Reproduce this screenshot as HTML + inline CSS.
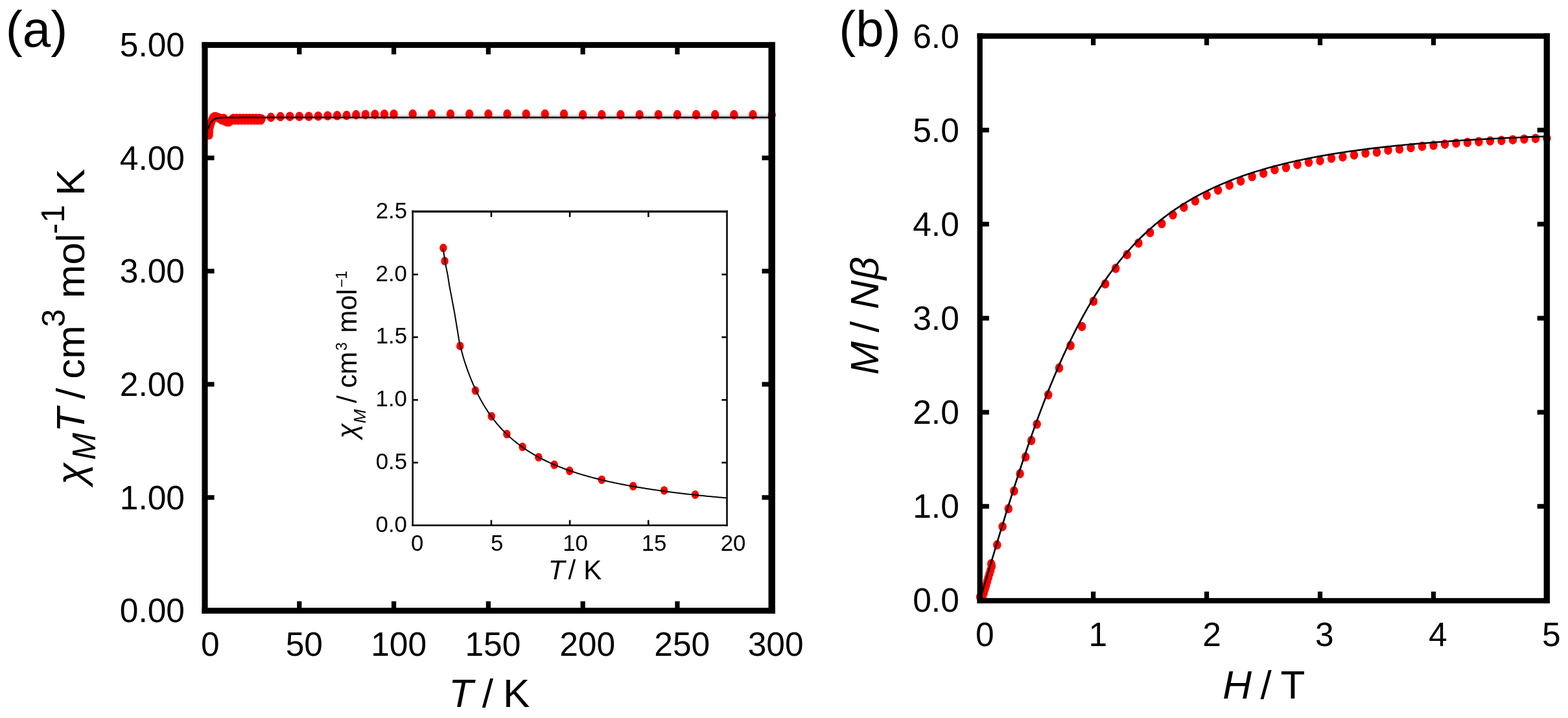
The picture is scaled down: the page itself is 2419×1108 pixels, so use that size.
<!DOCTYPE html>
<html><head><meta charset="utf-8"><title>Magnetic data</title>
<style>
html,body{margin:0;padding:0;background:#fff;}
svg{display:block;}
text{font-family:"Liberation Sans", Arial, Helvetica, sans-serif;fill:#000;font-kerning:none;}
</style></head>
<body>
<svg width="2419" height="1108" viewBox="0 0 2419 1108">
<rect width="2419" height="1108" fill="#fff"/>
<path d="M339.33,181.79 L350.10,181.36 L360.88,181.30 L371.66,181.30 L382.43,181.30 L393.21,181.30 L403.99,181.30 L414.76,181.30 L425.54,181.30 L436.32,181.30 L447.09,181.30 L457.87,181.30 L468.65,181.30 L479.42,181.30 L490.20,181.30 L500.98,181.30 L511.76,181.30 L522.53,181.30 L533.31,181.30 L544.09,181.30 L554.86,181.30 L565.64,181.30 L576.42,181.30 L587.19,181.30 L597.97,181.30 L608.75,181.30 L619.52,181.30 L630.30,181.30 L641.08,181.30 L651.86,181.30 L662.63,181.30 L673.41,181.30 L684.19,181.30 L694.96,181.30 L705.74,181.30 L716.52,181.30 L727.29,181.30 L738.07,181.30 L748.85,181.30 L759.62,181.30 L770.40,181.30 L781.18,181.30 L791.95,181.30 L802.73,181.30 L813.51,181.30 L824.29,181.30 L835.06,181.30 L845.84,181.30 L856.62,181.30 L867.39,181.30 L878.17,181.30 L888.95,181.30 L899.72,181.30 L910.50,181.30 L921.28,181.30 L932.05,181.30 L942.83,181.30 L953.61,181.30 L964.39,181.30 L975.16,181.30 L985.94,181.30 L996.72,181.30 L1007.49,181.30 L1018.27,181.30 L1029.05,181.30 L1039.82,181.30 L1050.60,181.30 L1061.38,181.30 L1072.15,181.30 L1082.93,181.30 L1093.71,181.30 L1104.48,181.30 L1115.26,181.30 L1126.04,181.30 L1136.82,181.30 L1147.59,181.30 L1158.37,181.30 L1169.15,181.30 L1179.92,181.30 L1190.70,181.30" fill="none" stroke="#d8d8d8" stroke-width="8"/>
<g fill="#ff0000">
<ellipse cx="322.5" cy="208.4" rx="6.24" ry="7.22"/>
<ellipse cx="322.8" cy="203.5" rx="6.24" ry="7.22"/>
<ellipse cx="323.2" cy="198.5" rx="6.24" ry="7.22"/>
<ellipse cx="324.0" cy="194.5" rx="6.24" ry="7.22"/>
<ellipse cx="325.5" cy="190.0" rx="6.24" ry="7.22"/>
<ellipse cx="327.0" cy="185.5" rx="6.24" ry="7.22"/>
<ellipse cx="328.5" cy="182.0" rx="6.24" ry="7.22"/>
<ellipse cx="330.5" cy="180.3" rx="6.24" ry="7.22"/>
<ellipse cx="333.0" cy="180.3" rx="6.24" ry="7.22"/>
<ellipse cx="335.5" cy="181.0" rx="6.24" ry="7.22"/>
<ellipse cx="338.0" cy="182.5" rx="6.24" ry="7.22"/>
<ellipse cx="340.0" cy="182.7" rx="6.24" ry="7.22"/>
<ellipse cx="342.5" cy="185.3" rx="6.24" ry="7.22"/>
<ellipse cx="345.0" cy="182.7" rx="6.24" ry="7.22"/>
<ellipse cx="347.5" cy="186.8" rx="6.24" ry="7.22"/>
<ellipse cx="350.0" cy="188.1" rx="6.24" ry="7.22"/>
<ellipse cx="352.5" cy="188.3" rx="6.24" ry="7.22"/>
<ellipse cx="355.0" cy="187.0" rx="6.24" ry="7.22"/>
<ellipse cx="357.5" cy="185.3" rx="6.24" ry="7.22"/>
<ellipse cx="360.0" cy="182.7" rx="6.24" ry="7.22"/>
<ellipse cx="362.5" cy="185.3" rx="6.24" ry="7.22"/>
<ellipse cx="365.0" cy="182.7" rx="6.24" ry="7.22"/>
<ellipse cx="367.5" cy="185.3" rx="6.24" ry="7.22"/>
<ellipse cx="370.0" cy="182.7" rx="6.24" ry="7.22"/>
<ellipse cx="372.5" cy="185.3" rx="6.24" ry="7.22"/>
<ellipse cx="375.0" cy="182.7" rx="6.24" ry="7.22"/>
<ellipse cx="377.5" cy="185.3" rx="6.24" ry="7.22"/>
<ellipse cx="380.0" cy="182.7" rx="6.24" ry="7.22"/>
<ellipse cx="382.5" cy="185.3" rx="6.24" ry="7.22"/>
<ellipse cx="385.0" cy="182.7" rx="6.24" ry="7.22"/>
<ellipse cx="387.5" cy="185.3" rx="6.24" ry="7.22"/>
<ellipse cx="390.0" cy="182.7" rx="6.24" ry="7.22"/>
<ellipse cx="392.5" cy="185.3" rx="6.24" ry="7.22"/>
<ellipse cx="395.0" cy="182.7" rx="6.24" ry="7.22"/>
<ellipse cx="397.5" cy="185.3" rx="6.24" ry="7.22"/>
<ellipse cx="400.0" cy="182.7" rx="6.24" ry="7.22"/>
<ellipse cx="402.5" cy="185.3" rx="6.24" ry="7.22"/>
<ellipse cx="403.5" cy="183.5" rx="6.24" ry="7.22"/>
<ellipse cx="418.0" cy="181.0" rx="6.24" ry="7.22"/>
<ellipse cx="432.6" cy="180.0" rx="6.24" ry="7.22"/>
<ellipse cx="447.2" cy="179.7" rx="6.24" ry="7.22"/>
<ellipse cx="461.8" cy="179.7" rx="6.24" ry="7.22"/>
<ellipse cx="476.4" cy="179.6" rx="6.24" ry="7.22"/>
<ellipse cx="490.9" cy="179.2" rx="6.24" ry="7.22"/>
<ellipse cx="505.5" cy="178.6" rx="6.24" ry="7.22"/>
<ellipse cx="520.1" cy="178.3" rx="6.24" ry="7.22"/>
<ellipse cx="534.7" cy="178.0" rx="6.24" ry="7.22"/>
<ellipse cx="549.3" cy="177.0" rx="6.24" ry="7.22"/>
<ellipse cx="563.8" cy="176.7" rx="6.24" ry="7.22"/>
<ellipse cx="578.4" cy="176.5" rx="6.24" ry="7.22"/>
<ellipse cx="593.0" cy="176.3" rx="6.24" ry="7.22"/>
<ellipse cx="607.6" cy="176.2" rx="6.24" ry="7.22"/>
<ellipse cx="636.7" cy="176.0" rx="6.24" ry="7.22"/>
<ellipse cx="665.9" cy="176.0" rx="6.24" ry="7.22"/>
<ellipse cx="695.0" cy="176.0" rx="6.24" ry="7.22"/>
<ellipse cx="724.2" cy="176.0" rx="6.24" ry="7.22"/>
<ellipse cx="753.4" cy="176.0" rx="6.24" ry="7.22"/>
<ellipse cx="782.5" cy="176.0" rx="6.24" ry="7.22"/>
<ellipse cx="811.7" cy="176.0" rx="6.24" ry="7.22"/>
<ellipse cx="840.8" cy="176.0" rx="6.24" ry="7.22"/>
<ellipse cx="870.0" cy="176.0" rx="6.24" ry="7.22"/>
<ellipse cx="899.1" cy="177.0" rx="6.24" ry="7.22"/>
<ellipse cx="928.3" cy="177.0" rx="6.24" ry="7.22"/>
<ellipse cx="957.4" cy="177.0" rx="6.24" ry="7.22"/>
<ellipse cx="986.6" cy="177.0" rx="6.24" ry="7.22"/>
<ellipse cx="1015.8" cy="177.0" rx="6.24" ry="7.22"/>
<ellipse cx="1044.9" cy="177.0" rx="6.24" ry="7.22"/>
<ellipse cx="1074.1" cy="177.0" rx="6.24" ry="7.22"/>
<ellipse cx="1103.2" cy="177.0" rx="6.24" ry="7.22"/>
<ellipse cx="1132.4" cy="177.0" rx="6.24" ry="7.22"/>
<ellipse cx="1161.5" cy="177.0" rx="6.24" ry="7.22"/>
<ellipse cx="1190.7" cy="177.0" rx="6.24" ry="7.22"/>
</g>
<path d="M321.10,199.49 L321.48,198.17 L321.86,196.94 L322.24,195.81 L322.62,194.75 L322.99,193.77 L323.37,192.86 L323.75,192.02 L324.13,191.24 L324.51,190.51 L324.89,189.84 L325.26,189.21 L325.64,188.64 L326.02,188.10 L326.40,187.60 L326.78,187.14 L327.16,186.71 L327.53,186.31 L327.91,185.94 L328.29,185.60 L328.67,185.28 L329.05,184.98 L329.42,184.71 L329.80,184.46 L330.18,184.22 L330.56,184.00 L330.94,183.80 L331.32,183.61 L331.69,183.44 L332.07,183.28 L332.45,183.13 L332.83,182.99 L333.21,182.86 L333.59,182.74 L333.96,182.63 L334.34,182.52 L334.72,182.43 L335.10,182.34 L335.48,182.26 L335.86,182.18 L336.23,182.11 L336.61,182.04 L336.99,181.98 L337.37,181.92 L337.75,181.87 L338.13,181.82 L338.50,181.78 L338.88,181.74 L339.26,181.70 L339.64,181.66 L340.02,181.63 L340.40,181.60 L340.77,181.57 L341.15,181.54 L341.53,181.52 L341.91,181.49 L342.29,181.47 L342.67,181.45 L343.04,181.43 L343.42,181.42 L343.80,181.40 L344.18,181.39 L344.56,181.37 L344.94,181.36 L345.31,181.35 L345.69,181.34 L346.07,181.33 L346.45,181.32 L346.83,181.31 L347.21,181.30 L347.58,181.29 L347.96,181.29 L348.34,181.28 L348.72,181.27 L349.10,181.27 L349.47,181.26 L349.85,181.26 L350.23,181.25 L350.61,181.25 L350.99,181.25 L352.45,181.23 L366.65,181.20 L380.86,181.20 L395.07,181.20 L409.28,181.20 L423.48,181.20 L437.69,181.20 L451.90,181.20 L466.11,181.20 L480.32,181.20 L494.52,181.20 L508.73,181.20 L522.94,181.20 L537.15,181.20 L551.35,181.20 L565.56,181.20 L579.77,181.20 L593.98,181.20 L608.18,181.20 L622.39,181.20 L636.60,181.20 L650.81,181.20 L665.02,181.20 L679.22,181.20 L693.43,181.20 L707.64,181.20 L721.85,181.20 L736.05,181.20 L750.26,181.20 L764.47,181.20 L778.68,181.20 L792.88,181.20 L807.09,181.20 L821.30,181.20 L835.51,181.20 L849.72,181.20 L863.92,181.20 L878.13,181.20 L892.34,181.20 L906.55,181.20 L920.75,181.20 L934.96,181.20 L949.17,181.20 L963.38,181.20 L977.58,181.20 L991.79,181.20 L1006.00,181.20 L1020.21,181.20 L1034.42,181.20 L1048.62,181.20 L1062.83,181.20 L1077.04,181.20 L1091.25,181.20 L1105.45,181.20 L1119.66,181.20 L1133.87,181.20 L1148.08,181.20 L1162.28,181.20 L1176.49,181.20 L1190.70,181.20" fill="none" stroke="#000" stroke-width="2.4" stroke-linejoin="round" stroke-linecap="butt"/>
<g fill="#ff0000">
<ellipse cx="683.9" cy="382.6" rx="5.76" ry="6.66"/>
<ellipse cx="686.1" cy="402.9" rx="5.76" ry="6.66"/>
<ellipse cx="709.8" cy="533.9" rx="5.76" ry="6.66"/>
<ellipse cx="733.4" cy="602.7" rx="5.76" ry="6.66"/>
<ellipse cx="758.2" cy="642.3" rx="5.76" ry="6.66"/>
<ellipse cx="781.9" cy="669.8" rx="5.76" ry="6.66"/>
<ellipse cx="806.1" cy="689.6" rx="5.76" ry="6.66"/>
<ellipse cx="830.9" cy="705.6" rx="5.76" ry="6.66"/>
<ellipse cx="855.1" cy="717.2" rx="5.76" ry="6.66"/>
<ellipse cx="878.7" cy="726.5" rx="5.76" ry="6.66"/>
<ellipse cx="928.3" cy="740.3" rx="5.76" ry="6.66"/>
<ellipse cx="976.7" cy="750.2" rx="5.76" ry="6.66"/>
<ellipse cx="1024.6" cy="756.8" rx="5.76" ry="6.66"/>
<ellipse cx="1072.5" cy="763.4" rx="5.76" ry="6.66"/>
</g>
<path d="M683.50,383.10 L685.60,396.70 L688.00,411.10 L690.90,425.50 L693.10,440.00 L695.90,454.40 L701.60,484.90 L708.70,528.20 L714.27,549.85 L716.31,556.43 L718.36,562.68 L720.41,568.64 L722.45,574.31 L724.50,579.73 L726.55,584.90 L728.59,589.85 L730.64,594.58 L732.69,599.12 L734.73,603.47 L736.78,607.64 L738.82,611.65 L740.87,615.51 L742.92,619.22 L744.96,622.79 L747.01,626.23 L749.06,629.55 L751.10,632.75 L753.15,635.84 L755.20,638.83 L757.24,641.72 L759.29,644.51 L761.34,647.21 L763.38,649.82 L765.43,652.36 L767.47,654.81 L769.52,657.19 L771.57,659.50 L773.61,661.74 L775.66,663.92 L777.71,666.03 L779.75,668.09 L781.80,670.08 L783.85,672.02 L785.89,673.91 L787.94,675.75 L789.98,677.54 L792.03,679.29 L794.08,680.99 L796.12,682.64 L798.17,684.25 L800.22,685.83 L802.26,687.36 L804.31,688.86 L806.36,690.33 L808.40,691.75 L810.45,693.15 L812.49,694.51 L814.54,695.84 L816.59,697.14 L818.63,698.42 L820.68,699.66 L822.73,700.88 L824.77,702.07 L826.82,703.23 L828.87,704.37 L830.91,705.49 L832.96,706.59 L835.01,707.66 L837.05,708.71 L839.10,709.74 L841.14,710.74 L843.19,711.73 L845.24,712.70 L847.28,713.65 L849.33,714.58 L851.38,715.50 L853.42,716.39 L855.47,717.27 L857.52,718.14 L859.56,718.99 L861.61,719.82 L863.65,720.64 L865.70,721.44 L867.75,722.23 L869.79,723.01 L871.84,723.77 L873.89,724.52 L875.93,725.25 L877.98,725.98 L880.03,726.69 L882.07,727.39 L884.12,728.08 L886.16,728.76 L888.21,729.42 L890.26,730.08 L892.30,730.72 L894.35,731.36 L896.40,731.98 L898.44,732.60 L900.49,733.20 L902.54,733.80 L904.58,734.38 L906.63,734.96 L908.68,735.53 L910.72,736.09 L912.77,736.65 L914.81,737.19 L916.86,737.73 L918.91,738.26 L920.95,738.78 L923.00,739.29 L925.05,739.80 L927.09,740.30 L929.14,740.79 L931.19,741.27 L933.23,741.75 L935.28,742.23 L937.32,742.69 L939.37,743.15 L941.42,743.61 L943.46,744.05 L945.51,744.49 L947.56,744.93 L949.60,745.36 L951.65,745.78 L953.70,746.20 L955.74,746.62 L957.79,747.03 L959.84,747.43 L961.88,747.83 L963.93,748.22 L965.97,748.61 L968.02,748.99 L970.07,749.37 L972.11,749.74 L974.16,750.11 L976.21,750.48 L978.25,750.84 L980.30,751.20 L982.35,751.55 L984.39,751.90 L986.44,752.24 L988.48,752.58 L990.53,752.92 L992.58,753.25 L994.62,753.58 L996.67,753.90 L998.72,754.22 L1000.76,754.54 L1002.81,754.85 L1004.86,755.16 L1006.90,755.47 L1008.95,755.78 L1010.99,756.08 L1013.04,756.37 L1015.09,756.67 L1017.13,756.96 L1019.18,757.24 L1021.23,757.53 L1023.27,757.81 L1025.32,758.09 L1027.37,758.36 L1029.41,758.64 L1031.46,758.91 L1033.51,759.17 L1035.55,759.44 L1037.60,759.70 L1039.64,759.96 L1041.69,760.22 L1043.74,760.47 L1045.78,760.72 L1047.83,760.97 L1049.88,761.22 L1051.92,761.46 L1053.97,761.70 L1056.02,761.94 L1058.06,762.18 L1060.11,762.41 L1062.15,762.64 L1064.20,762.87 L1066.25,763.10 L1068.29,763.33 L1070.34,763.55 L1072.39,763.77 L1074.43,763.99 L1076.48,764.21 L1078.53,764.42 L1080.57,764.64 L1082.62,764.85 L1084.66,765.06 L1086.71,765.27 L1088.76,765.47 L1090.80,765.68 L1092.85,765.88 L1094.90,766.08 L1096.94,766.28 L1098.99,766.47 L1101.04,766.67 L1103.08,766.86 L1105.13,767.05 L1107.18,767.24 L1109.22,767.43 L1111.27,767.62 L1113.31,767.80 L1115.36,767.99 L1117.41,768.17 L1119.45,768.35 L1121.50,768.53" fill="none" stroke="#000" stroke-width="2.0" stroke-linejoin="round" stroke-linecap="butt"/>
<g fill="#ff0000">
<ellipse cx="1512.0" cy="921.0" rx="6.24" ry="7.22"/>
<ellipse cx="1515.9" cy="921.1" rx="6.24" ry="7.22"/>
<ellipse cx="1517.7" cy="915.2" rx="6.24" ry="7.22"/>
<ellipse cx="1519.4" cy="909.3" rx="6.24" ry="7.22"/>
<ellipse cx="1521.2" cy="903.3" rx="6.24" ry="7.22"/>
<ellipse cx="1522.9" cy="897.4" rx="6.24" ry="7.22"/>
<ellipse cx="1524.7" cy="891.5" rx="6.24" ry="7.22"/>
<ellipse cx="1526.4" cy="885.6" rx="6.24" ry="7.22"/>
<ellipse cx="1528.2" cy="879.8" rx="6.24" ry="7.22"/>
<ellipse cx="1529.9" cy="873.9" rx="6.24" ry="7.22"/>
<ellipse cx="1529.1" cy="870.0" rx="6.24" ry="7.22"/>
<ellipse cx="1538.3" cy="840.8" rx="6.24" ry="7.22"/>
<ellipse cx="1546.6" cy="812.6" rx="6.24" ry="7.22"/>
<ellipse cx="1555.8" cy="785.0" rx="6.24" ry="7.22"/>
<ellipse cx="1564.4" cy="757.7" rx="6.24" ry="7.22"/>
<ellipse cx="1573.6" cy="731.0" rx="6.24" ry="7.22"/>
<ellipse cx="1582.2" cy="705.2" rx="6.24" ry="7.22"/>
<ellipse cx="1591.1" cy="679.8" rx="6.24" ry="7.22"/>
<ellipse cx="1599.7" cy="654.6" rx="6.24" ry="7.22"/>
<ellipse cx="1617.2" cy="609.3" rx="6.24" ry="7.22"/>
<ellipse cx="1634.0" cy="567.8" rx="6.24" ry="7.22"/>
<ellipse cx="1651.6" cy="533.3" rx="6.24" ry="7.22"/>
<ellipse cx="1669.1" cy="503.9" rx="6.24" ry="7.22"/>
<ellipse cx="1687.0" cy="464.9" rx="6.24" ry="7.22"/>
<ellipse cx="1705.1" cy="438.1" rx="6.24" ry="7.22"/>
<ellipse cx="1721.2" cy="414.1" rx="6.24" ry="7.22"/>
<ellipse cx="1738.7" cy="393.0" rx="6.24" ry="7.22"/>
<ellipse cx="1756.4" cy="375.2" rx="6.24" ry="7.22"/>
<ellipse cx="1774.2" cy="358.9" rx="6.24" ry="7.22"/>
<ellipse cx="1792.3" cy="345.1" rx="6.24" ry="7.22"/>
<ellipse cx="1809.5" cy="331.6" rx="6.24" ry="7.22"/>
<ellipse cx="1826.4" cy="319.9" rx="6.24" ry="7.22"/>
<ellipse cx="1843.9" cy="310.1" rx="6.24" ry="7.22"/>
<ellipse cx="1861.7" cy="301.5" rx="6.24" ry="7.22"/>
<ellipse cx="1879.1" cy="293.5" rx="6.24" ry="7.22"/>
<ellipse cx="1896.6" cy="285.9" rx="6.24" ry="7.22"/>
<ellipse cx="1914.1" cy="279.5" rx="6.24" ry="7.22"/>
<ellipse cx="1931.6" cy="272.6" rx="6.24" ry="7.22"/>
<ellipse cx="1949.1" cy="267.5" rx="6.24" ry="7.22"/>
<ellipse cx="1966.5" cy="261.9" rx="6.24" ry="7.22"/>
<ellipse cx="1984.0" cy="258.6" rx="6.24" ry="7.22"/>
<ellipse cx="2001.5" cy="253.8" rx="6.24" ry="7.22"/>
<ellipse cx="2019.0" cy="250.5" rx="6.24" ry="7.22"/>
<ellipse cx="2036.5" cy="248.0" rx="6.24" ry="7.22"/>
<ellipse cx="2054.0" cy="244.2" rx="6.24" ry="7.22"/>
<ellipse cx="2071.5" cy="242.2" rx="6.24" ry="7.22"/>
<ellipse cx="2089.0" cy="239.2" rx="6.24" ry="7.22"/>
<ellipse cx="2106.5" cy="236.3" rx="6.24" ry="7.22"/>
<ellipse cx="2124.0" cy="234.8" rx="6.24" ry="7.22"/>
<ellipse cx="2141.5" cy="231.7" rx="6.24" ry="7.22"/>
<ellipse cx="2159.0" cy="230.1" rx="6.24" ry="7.22"/>
<ellipse cx="2176.5" cy="227.9" rx="6.24" ry="7.22"/>
<ellipse cx="2194.0" cy="225.8" rx="6.24" ry="7.22"/>
<ellipse cx="2211.5" cy="224.3" rx="6.24" ry="7.22"/>
<ellipse cx="2229.0" cy="222.5" rx="6.24" ry="7.22"/>
<ellipse cx="2246.4" cy="220.9" rx="6.24" ry="7.22"/>
<ellipse cx="2263.9" cy="219.8" rx="6.24" ry="7.22"/>
<ellipse cx="2281.4" cy="218.7" rx="6.24" ry="7.22"/>
<ellipse cx="2298.9" cy="217.5" rx="6.24" ry="7.22"/>
<ellipse cx="2316.4" cy="216.8" rx="6.24" ry="7.22"/>
<ellipse cx="2333.9" cy="215.7" rx="6.24" ry="7.22"/>
<ellipse cx="2351.4" cy="214.6" rx="6.24" ry="7.22"/>
<ellipse cx="2368.9" cy="213.7" rx="6.24" ry="7.22"/>
<ellipse cx="2386.4" cy="213.0" rx="6.24" ry="7.22"/>
</g>
<path d="M1511.70,926.50 L1514.39,917.40 L1517.08,908.30 L1519.77,899.21 L1522.47,890.13 L1525.16,881.07 L1527.85,872.03 L1530.54,863.01 L1533.23,854.01 L1535.92,845.05 L1538.61,836.12 L1541.31,827.23 L1544.00,818.37 L1546.69,809.57 L1549.38,800.81 L1552.07,792.10 L1554.76,783.44 L1557.45,774.84 L1560.14,766.30 L1562.84,757.83 L1565.53,749.42 L1568.22,741.08 L1570.91,732.80 L1573.60,724.60 L1576.29,716.48 L1578.98,708.43 L1581.68,700.47 L1584.37,692.58 L1587.06,684.78 L1589.75,677.06 L1592.44,669.42 L1595.13,661.88 L1597.82,654.42 L1600.52,647.05 L1603.21,639.78 L1605.90,632.59 L1608.59,625.50 L1611.28,618.51 L1613.97,611.60 L1616.66,604.79 L1620.16,596.08 L1626.60,580.48 L1633.04,565.42 L1639.48,550.90 L1645.92,536.93 L1652.36,523.49 L1658.80,510.59 L1665.24,498.19 L1671.67,486.31 L1678.11,474.91 L1684.55,464.00 L1690.99,453.55 L1697.43,443.55 L1703.87,433.98 L1710.31,424.83 L1716.75,416.09 L1723.19,407.72 L1729.63,399.73 L1736.06,392.09 L1742.50,384.79 L1748.94,377.82 L1755.38,371.15 L1761.82,364.78 L1768.26,358.69 L1774.70,352.86 L1781.14,347.29 L1787.58,341.97 L1794.01,336.87 L1800.45,332.00 L1806.89,327.33 L1813.33,322.86 L1819.77,318.59 L1826.21,314.49 L1832.65,310.56 L1839.09,306.80 L1845.53,303.19 L1851.97,299.73 L1858.40,296.41 L1864.84,293.22 L1871.28,290.16 L1877.72,287.22 L1884.16,284.39 L1890.60,281.68 L1897.04,279.07 L1903.48,276.56 L1909.92,274.15 L1916.36,271.83 L1922.79,269.59 L1929.23,267.44 L1935.67,265.36 L1942.11,263.37 L1948.55,261.44 L1954.99,259.59 L1961.43,257.80 L1967.87,256.07 L1974.31,254.41 L1980.75,252.80 L1987.18,251.25 L1993.62,249.75 L2000.06,248.31 L2006.50,246.91 L2012.94,245.56 L2019.38,244.26 L2025.82,243.00 L2032.26,241.78 L2038.70,240.61 L2045.13,239.47 L2051.57,238.36 L2058.01,237.30 L2064.45,236.27 L2070.89,235.27 L2077.33,234.30 L2083.77,233.37 L2090.21,232.46 L2096.65,231.59 L2103.09,230.74 L2109.52,229.91 L2115.96,229.12 L2122.40,228.34 L2128.84,227.60 L2135.28,226.87 L2141.72,226.17 L2148.16,225.49 L2154.60,224.82 L2161.04,224.18 L2167.48,223.56 L2173.91,222.96 L2180.35,222.37 L2186.79,221.81 L2193.23,221.26 L2199.67,220.72 L2206.11,220.20 L2212.55,219.70 L2218.99,219.21 L2225.43,218.74 L2231.86,218.28 L2238.30,217.83 L2244.74,217.40 L2251.18,216.98 L2257.62,216.57 L2264.06,216.17 L2270.50,215.79 L2276.94,215.41 L2283.38,215.05 L2289.82,214.70 L2296.25,214.35 L2302.69,214.02 L2309.13,213.70 L2315.57,213.38 L2322.01,213.07 L2328.45,212.78 L2334.89,212.49 L2341.33,212.21 L2347.77,211.94 L2354.21,211.67 L2360.64,211.41 L2367.08,211.16 L2373.52,210.92 L2379.96,210.68 L2386.40,210.45" fill="none" stroke="#000" stroke-width="2.6" stroke-linejoin="round" stroke-linecap="butt"/>
<rect x="311.45" y="64.90" width="884.45" height="9.00" fill="#000"/>
<rect x="311.45" y="937.85" width="884.45" height="9.10" fill="#000"/>
<rect x="311.45" y="64.90" width="9.10" height="882.05" fill="#000"/>
<rect x="1185.50" y="64.90" width="10.40" height="882.05" fill="#000"/>
<rect x="458.18" y="927.85" width="7.2" height="10.50"/>
<rect x="458.18" y="73.40" width="7.2" height="10.50"/>
<rect x="603.97" y="927.85" width="7.2" height="10.50"/>
<rect x="603.97" y="73.40" width="7.2" height="10.50"/>
<rect x="749.75" y="927.85" width="7.2" height="10.50"/>
<rect x="749.75" y="73.40" width="7.2" height="10.50"/>
<rect x="895.53" y="927.85" width="7.2" height="10.50"/>
<rect x="895.53" y="73.40" width="7.2" height="10.50"/>
<rect x="1041.32" y="927.85" width="7.2" height="10.50"/>
<rect x="1041.32" y="73.40" width="7.2" height="10.50"/>
<rect x="320.05" y="764.12" width="10.50" height="7.2"/>
<rect x="1175.50" y="764.12" width="10.50" height="7.2"/>
<rect x="320.05" y="589.44" width="10.50" height="7.2"/>
<rect x="1175.50" y="589.44" width="10.50" height="7.2"/>
<rect x="320.05" y="414.76" width="10.50" height="7.2"/>
<rect x="1175.50" y="414.76" width="10.50" height="7.2"/>
<rect x="320.05" y="240.08" width="10.50" height="7.2"/>
<rect x="1175.50" y="240.08" width="10.50" height="7.2"/>
<rect x="1507.55" y="51.40" width="883.45" height="8.40" fill="#000"/>
<rect x="1507.55" y="922.90" width="883.45" height="8.20" fill="#000"/>
<rect x="1507.55" y="51.40" width="8.30" height="879.70" fill="#000"/>
<rect x="2381.60" y="51.40" width="9.40" height="879.70" fill="#000"/>
<rect x="1683.04" y="912.90" width="7.2" height="10.50"/>
<rect x="1683.04" y="59.30" width="7.2" height="10.50"/>
<rect x="1857.98" y="912.90" width="7.2" height="10.50"/>
<rect x="1857.98" y="59.30" width="7.2" height="10.50"/>
<rect x="2032.92" y="912.90" width="7.2" height="10.50"/>
<rect x="2032.92" y="59.30" width="7.2" height="10.50"/>
<rect x="2207.86" y="912.90" width="7.2" height="10.50"/>
<rect x="2207.86" y="59.30" width="7.2" height="10.50"/>
<rect x="1515.35" y="777.75" width="10.50" height="7.2"/>
<rect x="2371.60" y="777.75" width="10.50" height="7.2"/>
<rect x="1515.35" y="632.60" width="10.50" height="7.2"/>
<rect x="2371.60" y="632.60" width="10.50" height="7.2"/>
<rect x="1515.35" y="487.45" width="10.50" height="7.2"/>
<rect x="2371.60" y="487.45" width="10.50" height="7.2"/>
<rect x="1515.35" y="342.30" width="10.50" height="7.2"/>
<rect x="2371.60" y="342.30" width="10.50" height="7.2"/>
<rect x="1515.35" y="197.15" width="10.50" height="7.2"/>
<rect x="2371.60" y="197.15" width="10.50" height="7.2"/>
<rect x="635.40" y="324.70" width="487.45" height="3.40" fill="#111"/>
<rect x="635.40" y="809.35" width="487.45" height="2.70" fill="#111"/>
<rect x="635.40" y="324.70" width="2.60" height="487.35" fill="#111"/>
<rect x="1120.15" y="324.70" width="2.70" height="487.35" fill="#111"/>
<rect x="756.60" y="802.55" width="2.6" height="7.30"/>
<rect x="756.60" y="327.60" width="2.6" height="7.30"/>
<rect x="877.80" y="802.55" width="2.6" height="7.30"/>
<rect x="877.80" y="327.60" width="2.6" height="7.30"/>
<rect x="999.00" y="802.55" width="2.6" height="7.30"/>
<rect x="999.00" y="327.60" width="2.6" height="7.30"/>
<rect x="637.50" y="712.62" width="7.30" height="2.6"/>
<rect x="1113.35" y="712.62" width="7.30" height="2.6"/>
<rect x="637.50" y="615.84" width="7.30" height="2.6"/>
<rect x="1113.35" y="615.84" width="7.30" height="2.6"/>
<rect x="637.50" y="519.06" width="7.30" height="2.6"/>
<rect x="1113.35" y="519.06" width="7.30" height="2.6"/>
<rect x="637.50" y="422.28" width="7.30" height="2.6"/>
<rect x="1113.35" y="422.28" width="7.30" height="2.6"/>
<text x="184.78" y="960.30" font-size="51.5">0.00</text>
<text x="184.78" y="785.62" font-size="51.5">1.00</text>
<text x="184.78" y="610.94" font-size="51.5">2.00</text>
<text x="184.78" y="436.26" font-size="51.5">3.00</text>
<text x="184.78" y="261.58" font-size="51.5">4.00</text>
<text x="184.78" y="86.90" font-size="51.5">5.00</text>
<text x="324.40" y="1012.00" font-size="51.5" text-anchor="middle">0</text>
<text x="469.28" y="1012.00" font-size="51.5" text-anchor="middle">50</text>
<text x="615.17" y="1012.00" font-size="51.5" text-anchor="middle">100</text>
<text x="760.45" y="1012.00" font-size="51.5" text-anchor="middle">150</text>
<text x="906.13" y="1012.00" font-size="51.5" text-anchor="middle">200</text>
<text x="1052.22" y="1012.00" font-size="51.5" text-anchor="middle">250</text>
<text x="1196.60" y="1012.00" font-size="51.5" text-anchor="middle">300</text>
<text x="1408.22" y="944.40" font-size="51.5">0.0</text>
<text x="1408.22" y="799.25" font-size="51.5">1.0</text>
<text x="1408.22" y="654.10" font-size="51.5">2.0</text>
<text x="1408.22" y="508.95" font-size="51.5">3.0</text>
<text x="1408.22" y="363.80" font-size="51.5">4.0</text>
<text x="1408.22" y="218.65" font-size="51.5">5.0</text>
<text x="1408.22" y="73.50" font-size="51.5">6.0</text>
<text x="1519.25" y="996.80" font-size="51.5" text-anchor="middle">0</text>
<text x="1693.94" y="996.80" font-size="51.5" text-anchor="middle">1</text>
<text x="1869.48" y="996.80" font-size="51.5" text-anchor="middle">2</text>
<text x="2043.32" y="996.80" font-size="51.5" text-anchor="middle">3</text>
<text x="2218.36" y="996.80" font-size="51.5" text-anchor="middle">4</text>
<text x="2393.40" y="996.80" font-size="51.5" text-anchor="middle">5</text>
<text x="8.86" y="71.50" font-size="78">(a)</text>
<text x="1294.16" y="71.50" font-size="78">(b)</text>
<text x="692.33" y="1091.00" font-size="62" font-style="italic">T</text>
<text x="743.70" y="1091.00" font-size="62">/</text>
<text x="775.91" y="1091.00" font-size="62">K</text>
<text x="1886.29" y="1077.50" font-size="62" font-style="italic">H</text>
<text x="1944.50" y="1077.50" font-size="62">/</text>
<text x="1975.61" y="1077.50" font-size="62">T</text>
<g transform="translate(129.5,752.6) rotate(-90)">
<text x="4.51" y="0.00" font-size="62" font-style="italic">χ</text>
<text x="42.86" y="17.30" font-size="50" font-style="italic">M</text>
<text x="85.63" y="0.00" font-size="62" font-style="italic">T</text>
<text x="136.50" y="0.00" font-size="62">/</text>
<text x="167.97" y="0.00" font-size="62">cm</text>
<text x="247.90" y="-30.00" font-size="50">3</text>
<text x="292.48" y="0.00" font-size="62">mol</text>
<text x="391.38" y="-31.00" font-size="50">-</text>
<text x="408.89" y="-31.00" font-size="50">1</text>
<text x="450.51" y="0.00" font-size="62">K</text>
</g>
<g transform="translate(1354.8,576.6) rotate(-90)">
<text x="-1.91" y="0.00" font-size="62" font-style="italic">M</text>
<text x="63.60" y="0.00" font-size="62">/</text>
<text x="99.39" y="0.00" font-size="62" font-style="italic">N</text>
<text x="144.81" y="0.00" font-size="62" font-style="italic">β</text>
</g>
<text x="579.58" y="820.70" font-size="34.8">0.0</text>
<text x="579.68" y="723.92" font-size="34.8">0.5</text>
<text x="579.58" y="627.14" font-size="34.8">1.0</text>
<text x="579.68" y="530.36" font-size="34.8">1.5</text>
<text x="579.58" y="433.58" font-size="34.8">2.0</text>
<text x="579.68" y="336.80" font-size="34.8">2.5</text>
<text x="643.60" y="849.50" font-size="34.8" text-anchor="middle">0</text>
<text x="766.80" y="849.50" font-size="34.8" text-anchor="middle">5</text>
<text x="887.50" y="849.50" font-size="34.8" text-anchor="middle">10</text>
<text x="1009.10" y="849.50" font-size="34.8" text-anchor="middle">15</text>
<text x="1131.00" y="849.50" font-size="34.8" text-anchor="middle">20</text>
<text x="845.83" y="893.50" font-size="42" font-style="italic">T</text>
<text x="876.50" y="893.50" font-size="42">/</text>
<text x="900.25" y="893.50" font-size="42">K</text>
<g transform="translate(550.0,679.5) rotate(-90)">
<text x="3.06" y="0.00" font-size="42" font-style="italic">χ</text>
<text x="26.30" y="14.40" font-size="26" font-style="italic">M</text>
<text x="57.50" y="0.00" font-size="42">/</text>
<text x="80.82" y="0.00" font-size="42">cm</text>
<text x="138.52" y="-15.20" font-size="23">3</text>
<text x="165.81" y="0.00" font-size="42">mol</text>
<text x="235.87" y="-15.20" font-size="23">−</text>
<text x="248.85" y="-15.20" font-size="23">1</text>
</g>
</svg>
</body></html>
